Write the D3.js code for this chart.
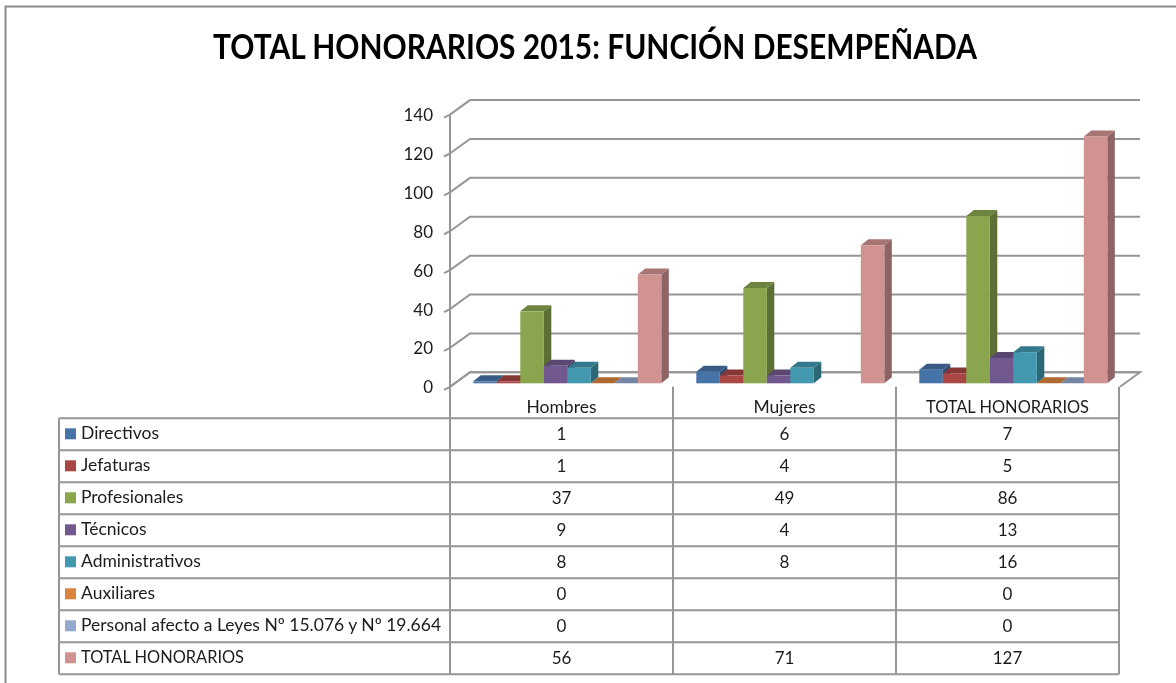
<!DOCTYPE html>
<html><head><meta charset="utf-8">
<script src="https://cdn.jsdelivr.net/npm/d3@7"></script>
<style>html,body{margin:0;padding:0;background:#fff}svg{display:block;filter:blur(0.4px)}text{font-family:Lato,"Open Sans",sans-serif}</style>
</head><body><div id="c"></div>
<script>
const title = "TOTAL HONORARIOS 2015: FUNCIÓN DESEMPEÑADA";
const categories = ["Hombres","Mujeres","TOTAL HONORARIOS"];
const seriesNames = ["Directivos","Jefaturas","Profesionales","Técnicos","Administrativos","Auxiliares","Personal afecto a Leyes Nº 15.076 y Nº 19.664","TOTAL HONORARIOS"];
const directivos = [1,6,7];
const jefaturas = [1,4,5];
const profesionales = [37,49,86];
const tecnicos = [9,4,13];
const administrativos = [8,8,16];
const auxiliares = [0,null,0];
const personal = [0,null,0];
const totalHonorarios = [56,71,127];
const seriesValues = [directivos,jefaturas,profesionales,tecnicos,administrativos,auxiliares,personal,totalHonorarios];
const colors = ["#4674a8","#aa4643","#89a54e","#71588f","#4198af","#db843d","#93a9cf","#d19392"];
const tickValues = [0,20,40,60,80,100,120,140];

const W=1176,H=683;
const svg=d3.select("#c").append("svg").attr("width",W).attr("height",H);
const LINE="#969696";
const dx=20, dy=-14.5;
const barDx=7.5, barDy=-6;
const y=d3.scaleLinear().domain([0,140]).range([386.8,114.6]);
const colX=d3.scaleBand().domain(categories).range([450,1119]);
const barX=d3.scaleBand().domain(d3.range(seriesNames.length)).range([0,188]);
const rowY=d3.scaleBand().domain(seriesNames).range([418.3,674.3]);
const labelSize=s=>s===s.toUpperCase()?16.4:17.5;

svg.append("path").attr("d",`M5.5,${H}V6.5H${W}`).attr("fill","none").attr("stroke","#8c8c8c").attr("stroke-width",2);

svg.append("text").attr("x",595).attr("y",59).attr("text-anchor","middle")
  .attr("textLength",764).attr("lengthAdjust","spacingAndGlyphs")
  .attr("font-size",34.5).attr("font-weight",700).attr("fill","#000").text(title);

const g=svg.append("g");
g.append("path").attr("d",`M450,${y(0)}L${450+dx},${y(0)+dy}H${1120+dx}L1120,${y(0)}`)
  .attr("fill","#fff").attr("stroke",LINE).attr("stroke-width",2);
g.selectAll("path.grid").data(tickValues).join("path").attr("class","grid")
  .attr("d",d=>`M444,${y(d)+3}L450,${y(d)}L${450+dx},${y(d)+dy}H${1120+dx}`)
  .attr("fill","none").attr("stroke",LINE).attr("stroke-width",2);
g.append("path").attr("d",`M450,${y(140)}V${y(0)}`).attr("stroke",LINE).attr("stroke-width",2);
g.selectAll("text.tick").data(tickValues).join("text").attr("class","tick")
  .attr("x",433).attr("y",d=>y(d)+6.5).attr("text-anchor","end").attr("font-size",17).attr("fill","#1c1c1c").text(d=>d);

const shade=(c,k)=>d3.rgb(c).darker(k).formatHex();
const baseY=383.3, unit=y(0)-y(1);
const bars=[];
categories.forEach((cat,ci)=>seriesNames.forEach((s,si)=>{
  const v=seriesValues[si][ci];
  if(v!==null) bars.push({cat,si,v});
}));
const gx=d=>colX(d.cat)+23.3+barX(d.si), bw=barX.bandwidth();
const bar=svg.append("g").selectAll("g").data(bars).join("g");
bar.append("path").attr("fill",d=>shade(colors[d.si],1.1))
  .attr("d",d=>{const x=gx(d)+bw,t=baseY-d.v*unit;return `M${x},${baseY}L${x+barDx},${baseY+barDy}V${t+barDy}L${x},${t}Z`;});
bar.append("path").attr("fill",d=>shade(colors[d.si],0.65))
  .attr("d",d=>{const x=gx(d),t=baseY-d.v*unit;return `M${x},${t}L${x+barDx},${t+barDy}H${x+bw+barDx}L${x+bw},${t}Z`;});
bar.append("rect").attr("fill",d=>colors[d.si]).attr("x",gx).attr("width",bw)
  .attr("y",d=>baseY-d.v*unit).attr("height",d=>d.v*unit);

const t=svg.append("g").attr("stroke",LINE).attr("stroke-width",2);
const rowEdges=seriesNames.map(s=>rowY(s)).concat([rowY.range()[1]]);
t.selectAll("line.row").data(rowEdges).join("line").attr("x1",59).attr("x2",1119).attr("y1",d=>d).attr("y2",d=>d);
t.append("line").attr("x1",59).attr("x2",59).attr("y1",rowEdges[0]).attr("y2",rowEdges[8]);
const colEdges=categories.map(c=>colX(c)).concat([colX.range()[1]]);
t.selectAll("line.col").data(colEdges).join("line").attr("x1",d=>d).attr("x2",d=>d).attr("y1",y(0)).attr("y2",rowEdges[8]);

const txt=svg.append("g").attr("fill","#1c1c1c");
txt.selectAll("text.head").data(categories).join("text").attr("class","head")
  .attr("font-size",labelSize)
  .attr("x",c=>colX(c)+colX.bandwidth()/2).attr("y",413).attr("text-anchor","middle").text(c=>c);
seriesNames.forEach((s,si)=>{
  const cy=rowY(s)+rowY.bandwidth()/2;
  svg.append("rect").attr("x",65).attr("y",cy-6).attr("width",11).attr("height",11).attr("fill",colors[si]);
  txt.append("text").attr("x",81).attr("y",cy+5).attr("font-size",labelSize(s)).text(s);
  categories.forEach((c,ci)=>{
    const v=seriesValues[si][ci];
    if(v!==null) txt.append("text").attr("x",colX(c)+colX.bandwidth()/2).attr("y",cy+6).attr("font-size",17).attr("text-anchor","middle").text(v);
  });
});
</script></body></html>
